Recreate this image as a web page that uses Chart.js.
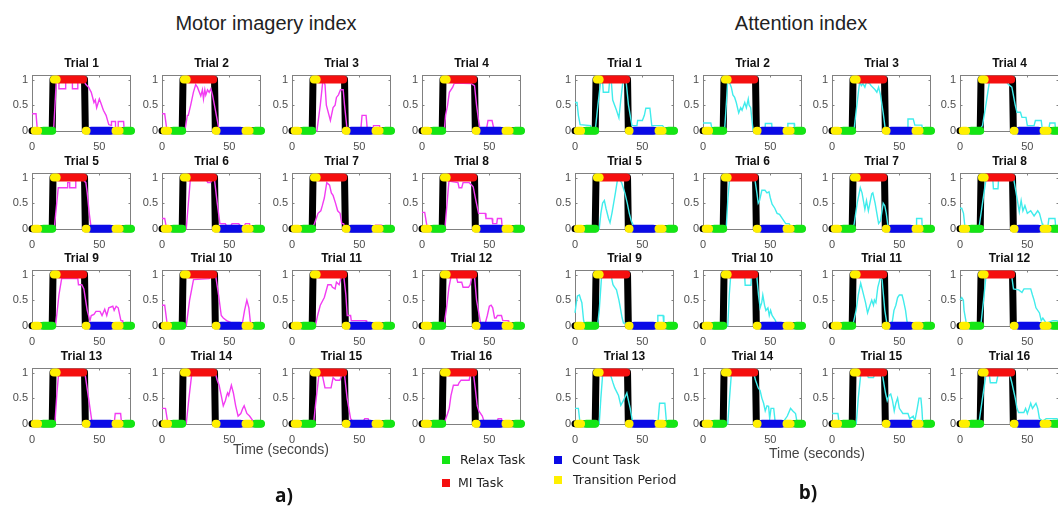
<!DOCTYPE html>
<html>
<head>
<meta charset="utf-8">
<script src="https://cdn.jsdelivr.net/npm/chart.js@4.4.0/dist/chart.umd.min.js"></script>
<style>
html,body{margin:0;padding:0;background:#fff;width:1058px;height:506px;overflow:hidden;position:relative;font-family:"Liberation Sans",Arial,sans-serif;}
canvas{position:absolute;}
.t{position:absolute;white-space:nowrap;line-height:1;}
.sq{position:absolute;width:8px;height:8px;}
</style>
</head>
<body>
<script>
// ---------------- DATA ----------------
const xTicks = [0, 50];
const yTicks = [0, 0.5, 1];
const trialLabels = ['Trial 1','Trial 2','Trial 3','Trial 4','Trial 5','Trial 6','Trial 7','Trial 8',
                     'Trial 9','Trial 10','Trial 11','Trial 12','Trial 13','Trial 14','Trial 15','Trial 16'];
const legendLabels = ['Relax Task', 'MI Task', 'Count Task', 'Transition Period'];

// protocol (time in seconds, level 0 = rest / 1 = MI)
const protocolTime  = [0, 15, 15.6, 39, 39.6, 73.5];
const protocolLevel = [0, 0, 1, 1, 0, 0];
const relaxSegments = [[8.5, 15], [69.5, 73.5]];        // level 0
const miSegments = [[20, 38]];                          // level 1
const countSegments = [[44, 58]];                       // level 0
const transitionLow = [[2, 4.5], [40, 40.5], [62, 65]]; // level 0
const transitionHigh = [[16.3, 18.3]];                  // level 1

// Motor imagery index (magenta), traced per trial
const mi1 = [[0,0.33],[3,0.33],[4,0],[16,0],[18,0.95],[20,0.95],[20,0.82],[25,0.82],[25,0.95],[30,0.95],[30,0.82],[34,0.82],[34,0.95],[39,0.95],[40,0.9],[42,0.85],[44,0.75],[46,0.55],[47,0.6],[48,0.45],[50,0.62],[51,0.55],[53,0.4],[55,0.3],[57,0.12],[59,0.1],[59,0.18],[62,0.18],[62,0.05],[64,0.05],[64,0.18],[68,0.18],[68.5,0],[73.5,0]];
const mi2 = [[0,0.33],[2,0.33],[3.7,0],[17,0],[18.8,0.3],[19.5,0.3],[21.3,0.5],[23.3,0.75],[25,0.9],[26.3,0.85],[28.8,0.68],[30,0.8],[30.8,0.62],[31.8,0.8],[32.5,0.7],[33.8,0.8],[35,0.75],[36.3,0.82],[37.5,0.7],[42.5,0],[73.5,0]];
const mi3 = [[0,0],[18.5,0],[21,0.5],[23,1],[24.5,0.9],[25.5,0.5],[28.5,0.2],[30.5,0.45],[32,0.5],[33,0.65],[34.5,0.7],[36,0.8],[38,0.8],[39,0.5],[41,0],[51,0],[52,0.3],[55,0.3],[56,0],[60,0],[60.5,0.1],[65,0.1],[65.5,0],[73.5,0]];
const mi4 = [[0,0],[16.5,0],[17.5,0.3],[19,0.5],[20.3,0.75],[22.8,0.85],[24,0.93],[36.7,0.92],[39,0.88],[40.5,0.5],[42,0.2],[43,0.05],[48,0.05],[49,0.2],[52,0.2],[53,0.08],[54.4,0],[73.5,0]];
const mi5 = [[0,0],[16.5,0],[18,0.4],[19.5,0.8],[26.5,0.8],[26.5,0.9],[28,0.9],[28,0.8],[32,0.8],[32.5,0.95],[38,0.95],[40,0.9],[41,0.7],[42.5,0.3],[44,0],[73.5,0]];
const mi6 = [[0,0.2],[2,0.2],[3.4,0],[18,0],[21,0.95],[33,0.95],[34,0.9],[36,0.9],[37,0.95],[39,0.95],[41,0.5],[43,0.1],[47,0.1],[48,0.05],[51,0.05],[52,0.1],[57,0.1],[58,0.05],[61,0.05],[62,0.1],[65,0.1],[65.5,0],[73.5,0]];
const mi7 = [[0,0],[14.8,0],[16.7,0.1],[18,0.2],[19.3,0.3],[21.4,0.35],[22.5,0.45],[24,0.6],[25.8,0.9],[27.9,0.85],[29.2,0.7],[30.5,0.65],[32.3,0.5],[33.9,0.35],[35.7,0.3],[37,0.1],[38.3,0.1],[39.6,0],[61.5,0],[62,0.07],[66.5,0.07],[67,0],[73.5,0]];
const mi8 = [[0,0.32],[2,0.32],[4,0],[17,0],[20,0.93],[26.7,0.9],[27.5,0.8],[29.5,0.8],[30.5,0.9],[35,0.9],[37,0.85],[38,0.82],[40,0.55],[42,0.3],[47,0.3],[47.5,0.2],[52,0.2],[52.5,0.1],[55.5,0.1],[56,0.2],[59,0.2],[59.6,0],[73.5,0]];
const mi9 = [[0,0],[17.5,0],[20,0.6],[22,0.92],[34,0.92],[34.5,0.8],[37,0.8],[38.5,0.72],[41,0.3],[43,0.1],[44,0.2],[46,0.22],[47.5,0.28],[50.5,0.28],[52,0.2],[54,0.32],[55.5,0.2],[57,0.35],[60,0.38],[61,0.3],[62.5,0.38],[64,0.35],[66,0.1],[67,0.1],[67.5,0],[73.5,0]];
const mi10 = [[0,0.4],[2,0.4],[4,0],[18,0],[20.5,0.5],[23.4,0.9],[35,0.92],[36,0.95],[40,0.95],[42,0.6],[44,0.2],[45.5,0.15],[48,0.1],[52,0.05],[55,0],[59,0],[60,0.1],[61.3,0.3],[63,0.5],[64.5,0.35],[65.5,0.1],[66.4,0],[73.5,0]];
const mi11 = [[0,0],[17.4,0],[19,0.2],[21,0.4],[24,0.55],[26.6,0.8],[29,0.8],[30,0.75],[32,0.72],[33,0.85],[35,0.8],[36.5,0.95],[38.5,0.95],[40,0.6],[41,0.2],[43.5,0.2],[44,0.1],[55,0.1],[55.5,0],[73.5,0]];
const mi12 = [[0,0],[16.3,0],[18,0.3],[20,0.75],[21.5,0.95],[25.5,0.95],[26.5,0.85],[29.5,0.85],[30.5,0.75],[34.5,0.75],[35.8,0.8],[37,0.95],[39,0.95],[40.5,0.5],[43.5,0.05],[47,0.05],[48.5,0.2],[50,0.38],[51.3,0.4],[52.5,0.35],[53.9,0.15],[55,0.15],[56,0.2],[59,0.2],[60,0.1],[64,0.1],[64.5,0],[73.5,0]];
const mi13 = [[0,0],[17,0],[18.5,0.6],[19.7,0.95],[39.5,0.95],[42,0.5],[44.7,0],[61,0],[61.8,0.2],[65.8,0.2],[66.5,0],[73.5,0]];
const mi14 = [[0,0.3],[2.6,0.3],[4.4,0],[18,0],[20,0.5],[22,0.95],[40,0.95],[41,0.85],[42.4,0.75],[44,0.55],[45.5,0.35],[47,0.45],[48,0.55],[48.7,0.6],[49.5,0.55],[51.5,0.75],[53,0.6],[54.7,0.35],[56.5,0.15],[58.5,0.2],[60,0.3],[61,0.35],[63,0.2],[65,0.15],[67.7,0.05],[69,0],[73.5,0]];
const mi15 = [[0,0],[16,0],[18,0.5],[20,0.95],[22.5,0.95],[24.5,0.7],[29,0.7],[30.5,0.9],[32.5,0.85],[35.5,0.85],[37,0.95],[39,0.95],[40.9,0.5],[43.5,0.1],[45,0.05],[53,0.05],[54,0.1],[56.5,0.1],[57.8,0],[73.5,0]];
const mi16 = [[0,0],[16.3,0],[19,0.2],[20.2,0.3],[21.5,0.55],[23.3,0.75],[26.7,0.75],[27.5,0.8],[29,0.85],[35,0.85],[35.8,0.95],[38.3,0.95],[39.5,0.7],[41,0.35],[42.2,0.25],[44.8,0.15],[46,0.05],[56,0.05],[56.5,0.1],[59,0.1],[60,0],[73.5,0]];

// Attention index (cyan), traced per trial
const att1 = [[0,0.55],[1.5,0.55],[2.5,0.3],[3.8,0.12],[11.5,0.1],[12.5,0],[15,0],[17,0.5],[19,0.95],[20.5,0.95],[21,0.75],[25,0.75],[25.6,0.95],[27,0.95],[28,0.6],[30.8,0.4],[32.6,0.25],[34,0.6],[35.5,0.95],[38,0.95],[39.7,0.5],[42.3,0.1],[46,0.1],[46.5,0.2],[50,0.2],[51.5,0.3],[52.6,0.44],[55.6,0.44],[57,0.1],[65,0.1],[66.5,0.05],[70.5,0.05],[71,0],[73.5,0]];
const att2 = [[0,0.15],[5.8,0.15],[7,0],[16,0],[17.5,0.6],[18.4,1],[19.5,0.95],[21,0.85],[22.2,0.7],[23.5,0.65],[24.7,0.55],[26.5,0.35],[28,0.45],[29,0.4],[31,0.55],[32.2,0.45],[33.6,0.62],[34.2,0.5],[35.4,0.45],[36.8,0.1],[37.4,0],[46,0],[46.3,0.14],[51,0.14],[51.3,0],[62.6,0],[63,0.14],[67.7,0.14],[68,0],[73.5,0]];
const att3 = [[0,0],[15,0],[16.5,0.05],[18,0.4],[20.5,0.95],[21.8,0.88],[23,0.92],[24.4,0.85],[25.6,0.95],[28,0.92],[29,0.88],[32,0.8],[33.3,0.75],[34.6,0.85],[36,0.7],[38,0.35],[39.7,0],[56,0],[56.4,0.23],[60.3,0.23],[61.5,0.11],[66.7,0.11],[67.4,0],[73.5,0]];
const att4 = [[0,0],[14,0],[16.7,0.1],[19.2,0.5],[21.8,0.95],[34.6,0.95],[36,0.9],[38.5,0.85],[41,0.5],[42.3,0.36],[44.9,0.36],[46,0.26],[49,0.26],[50,0.1],[55,0.1],[56,0.2],[60.3,0.2],[61,0.05],[66,0.05],[66.7,0.15],[70.5,0.15],[71,0],[73.5,0]];
const att5 = [[0,0],[18,0],[19.2,0.3],[20.5,0.5],[21.8,0.55],[23,0.4],[24.9,0.2],[26,0.12],[27.4,0.3],[28.7,0.5],[30,0.7],[31.5,0.95],[33.3,0.95],[34.6,0.9],[37,0.7],[38.8,0.5],[40.3,0.3],[41.8,0.15],[43.6,0.05],[45,0],[53.8,0],[54,0.05],[57.7,0.05],[58,0],[73.5,0]];
const att6 = [[0,0],[17.2,0],[18.5,0.6],[19.7,0.95],[38.6,0.95],[40,0.7],[41,0.5],[42,0.55],[43.7,0.75],[46,0.75],[47.5,0.7],[49,0.72],[50,0.6],[51.3,0.48],[53.3,0.4],[55,0.3],[56.8,0.28],[58.8,0.2],[61.4,0.1],[63.9,0.1],[65,0.05],[66.5,0],[73.5,0]];
const att7 = [[0,0],[15.5,0],[16.5,0.1],[18.7,0.5],[21,0.8],[22.3,0.7],[24.4,0.38],[25.6,0.55],[27,0.35],[29.5,0.68],[30.3,0.7],[32,0.5],[33.3,0.3],[34.6,0.1],[36,0.15],[38,0.5],[39.2,0.45],[40.3,0.3],[41.8,0],[62.5,0],[62.8,0.2],[66.7,0.2],[67,0],[73.5,0]];
const att8 = [[0,0.4],[1.3,0.4],[2.6,0.3],[3.8,0],[14,0],[16.7,0.5],[19.2,0.95],[24.4,0.95],[24.8,0.78],[28.2,0.78],[28.6,0.95],[40,0.95],[41,0.8],[42.3,0.6],[44,0.33],[45.4,0.55],[46.7,0.35],[48.2,0.45],[50,0.3],[52.5,0.35],[55,0.25],[57.7,0.35],[59,0.3],[61,0.1],[61.5,0],[65,0],[66,0.2],[70.5,0.2],[71,0.05],[73.5,0]];
const att9 = [[0,0.25],[1,0.45],[1.8,0.58],[3.3,0.6],[4.4,0.5],[5.1,0.45],[6.4,0.1],[7.7,0],[16.7,0],[18,0.3],[19.7,0.95],[27,0.95],[28.2,0.8],[29.5,0.75],[30.8,0.7],[32.6,0.5],[33.3,0.4],[35,0.15],[36,0.05],[40,0.05],[41,0],[61,0],[61.5,0.2],[65.4,0.2],[66,0],[73.5,0]];
const att10 = [[0,0],[18.4,0],[19.5,0.6],[20.5,0.95],[31,0.95],[31.3,0.79],[35.6,0.79],[36,0.95],[40,0.95],[41.2,0.6],[42.4,0.35],[43.6,0.45],[44.4,0.6],[45.7,0.4],[46.7,0.3],[48.2,0.35],[49.2,0.2],[50.2,0.3],[51.3,0.2],[53.8,0.1],[55,0],[61,0],[61.5,0.05],[66,0.05],[66.5,0],[73.5,0]];
const att11 = [[0,0],[15.4,0],[17.9,0.3],[19.5,0.6],[21.3,0.83],[23,0.65],[24.9,0.45],[26.4,0.25],[28.2,0.4],[29.5,0.5],[30.8,0.4],[31.5,0.5],[32.6,0.45],[34,0.75],[36,0.95],[37.2,0.9],[39.2,0.3],[41,0],[43.5,0],[44.9,0.1],[46,0.3],[47.4,0.4],[48.7,0.55],[50,0.6],[52,0.6],[53,0.5],[54.6,0.3],[55.6,0.1],[56.4,0],[62.5,0],[62.8,0.05],[66.7,0.05],[67,0],[73.5,0]];
const att12 = [[0,0.5],[1.3,0.55],[2.5,0.5],[3,0.3],[5,0],[15.4,0],[17.5,0.5],[19.2,0.95],[38.5,0.95],[39.7,0.72],[43.6,0.7],[46,0.65],[47.5,0.72],[52.5,0.72],[53.8,0.6],[55,0.5],[56.4,0.35],[59,0.25],[60.3,0.1],[61.5,0.15],[64,0.05],[69,0.1],[72,0.1],[73.5,0.05]];
const att13 = [[0,0.3],[2.5,0.3],[3.8,0],[18,0],[19.2,0.5],[20.5,0.95],[26.4,0.95],[27,0.9],[28.2,0.8],[29.5,0.7],[32.3,0.55],[34,0.36],[35.9,0.45],[38.5,0.6],[39.7,0.45],[41,0.3],[42.3,0.1],[43.6,0],[61.5,0],[62.8,0.4],[66.7,0.4],[68,0],[73.5,0]];
const att14 = [[0,0],[18.4,0],[19.7,0.5],[21,0.95],[38,0.95],[39,0.85],[41,0.7],[42.4,0.65],[43.7,0.5],[45,0.4],[46.2,0.25],[47.5,0.35],[48.7,0.34],[49.5,0.1],[50.5,0.3],[52.5,0.3],[53.5,0.05],[60,0.05],[62.6,0.15],[65,0.3],[66.7,0.25],[68.7,0.2],[70,0],[73.5,0]];
const att15 = [[0,0.2],[4.4,0.2],[5.1,0.05],[6.4,0],[18,0],[19.5,0.5],[21.3,0.95],[26.4,0.95],[27,0.9],[30.8,0.9],[31.5,0.95],[37.5,0.95],[39.7,0.6],[41,0.45],[42.3,0.55],[43.6,0.58],[44.9,0.45],[46.2,0.25],[47.4,0.4],[48.7,0.5],[50,0.3],[52.6,0.2],[56.4,0.2],[57.7,0.1],[60.3,0.15],[61.5,0.05],[63.3,0.3],[64.6,0.5],[66,0.5],[66.7,0.3],[67.4,0],[73.5,0]];
const att16 = [[0,0],[14,0],[16.7,0.5],[19.2,0.95],[21.8,0.95],[22.5,0.8],[27,0.8],[28.2,0.95],[37,0.95],[38.5,0.8],[41,0.5],[42.3,0.3],[43.5,0.22],[47.4,0.22],[48.7,0.3],[50,0.2],[51.3,0.3],[52.5,0.4],[53.8,0.3],[56.4,0.4],[57.7,0.3],[59,0.1],[61.5,0.05],[64,0.1],[72,0.1],[73.5,0.05]];

// ---------------- STYLE / LAYOUT ----------------
const FONT = '"Liberation Sans", Arial, sans-serif';
const COL = {relax:'#14e614', mi:'#f50f0f', count:'#0a0ae6', trans:'#fff000', proto:'#000000', miLine:'#f23cf2', attLine:'#40ecec'};
const miSeries = [mi1,mi2,mi3,mi4,mi5,mi6,mi7,mi8,mi9,mi10,mi11,mi12,mi13,mi14,mi15,mi16];
const attSeries = [att1,att2,att3,att4,att5,att6,att7,att8,att9,att10,att11,att12,att13,att14,att15,att16];
const miLefts = [32, 162, 292, 422];
const attLefts = [575, 703, 832, 960];
const rowTops = [75, 173, 270, 368];
const BOX_W = 99, BOX_H = 57, LEFT_PAD = 30, TOP_PAD = 22, BOTTOM_PAD = 20, RIGHT_PAD = 6;

const toXY = arr => arr.map(p => ({x: p[0], y: p[1]}));
function segData(segs, level) {
  const out = [];
  segs.forEach((s, i) => {
    if (i > 0) out.push({x: (segs[i-1][1] + s[0]) / 2, y: null});
    out.push({x: s[0], y: level}, {x: s[1], y: level});
  });
  return out;
}
const protoData = protocolTime.map((t, i) => ({x: t, y: protocolLevel[i]}));

const boxPlugin = {
  id: 'matlabBox',
  beforeDatasetsDraw(chart) {
    const a = chart.chartArea, ctx = chart.ctx;
    const xs = chart.scales.x, ys = chart.scales.y;
    ctx.save();
    ctx.strokeStyle = '#808080';
    ctx.lineWidth = 1;
    const l = Math.round(a.left) + 0.5, t = Math.round(a.top) + 0.5;
    const r = Math.round(a.right) - 0.5, b = Math.round(a.bottom) - 0.5;
    ctx.strokeRect(l, t, r - l, b - t);
    ctx.beginPath();
    xTicks.forEach(v => { const px = Math.round(xs.getPixelForValue(v)) + 0.5; ctx.moveTo(px, b); ctx.lineTo(px, b - 2); ctx.moveTo(px, t); ctx.lineTo(px, t + 2); });
    yTicks.forEach(v => { const py = Math.round(ys.getPixelForValue(v)) + 0.5; ctx.moveTo(l, py); ctx.lineTo(l + 2, py); ctx.moveTo(r, py); ctx.lineTo(r - 2, py); });
    ctx.stroke();
    ctx.restore();
  }
};

function thick(data, color, order, width) {
  return {data, borderColor: color, backgroundColor: color, borderWidth: width || 8, pointRadius: 0,
          borderCapStyle: 'round', borderJoinStyle: 'round', spanGaps: false, clip: false, order, tension: 0, fill: false};
}

function makePanel(boxLeft, boxTop, title, series, lineColor) {
  const W = LEFT_PAD + BOX_W + RIGHT_PAD, H = TOP_PAD + BOX_H + BOTTOM_PAD;
  const c = document.createElement('canvas');
  c.width = W; c.height = H;
  c.style.left = (boxLeft - LEFT_PAD) + 'px';
  c.style.top = (boxTop - TOP_PAD) + 'px';
  c.style.width = W + 'px'; c.style.height = H + 'px';
  document.body.appendChild(c);
  new Chart(c, {
    type: 'line',
    data: {
      datasets: [
        thick(segData(transitionLow, 0), COL.trans, 0),
        thick(segData(transitionHigh, 1), COL.trans, 0),
        thick(segData(miSegments, 1), COL.mi, 1),
        thick(segData(countSegments, 0), COL.count, 1),
        thick(segData(relaxSegments, 0), COL.relax, 1),
        {data: toXY(series), borderColor: lineColor, borderWidth: 1.4, pointRadius: 0, tension: 0, fill: false, order: 2, clip: false},
        thick(protoData, COL.proto, 3, 7)
      ]
    },
    options: {
      responsive: false, animation: false, devicePixelRatio: 1,
      events: [],
      layout: {padding: {left: 0, right: RIGHT_PAD, top: 0, bottom: 0}},
      plugins: {
        legend: {display: false}, tooltip: {enabled: false},
        title: {display: true, text: title, fullSize: false, color: '#111',
                font: {family: FONT, size: 12, weight: 'bold', lineHeight: 1}, padding: {top: 5, bottom: 5}}
      },
      scales: {
        x: {type: 'linear', min: 0, max: 73.5,
            afterBuildTicks: s => { s.ticks = xTicks.map(v => ({value: v})); },
            afterFit: s => { s.height = BOTTOM_PAD; },
            grid: {display: false, drawTicks: false}, border: {display: false},
            ticks: {padding: 8, autoSkip: false, maxRotation: 0, color: '#4d4d4d', font: {family: FONT, size: 11}, callback: v => String(v)}},
        y: {type: 'linear', min: -0.025, max: 1.088,
            afterBuildTicks: s => { s.ticks = yTicks.map(v => ({value: v})); },
            afterFit: s => { s.width = LEFT_PAD; },
            grid: {display: false, drawTicks: false}, border: {display: false},
            ticks: {padding: 4, autoSkip: false, color: '#4d4d4d', font: {family: FONT, size: 11}, callback: v => String(v)}}
      }
    },
    plugins: [boxPlugin]
  });
}

for (let r = 0; r < 4; r++) {
  for (let cIdx = 0; cIdx < 4; cIdx++) {
    const k = r * 4 + cIdx;
    makePanel(miLefts[cIdx], rowTops[r], trialLabels[k], miSeries[k], COL.miLine);
    makePanel(attLefts[cIdx], rowTops[r], trialLabels[k], attSeries[k], COL.attLine);
  }
}

// ---------------- TEXT ----------------
function addText(txt, x, y, css, anchor) {
  const d = document.createElement('div');
  d.className = 't';
  d.textContent = txt;
  d.style.left = x + 'px'; d.style.top = y + 'px';
  d.style.transform = anchor === 'left' ? 'translate(0,-50%)' : 'translate(-50%,-50%)';
  Object.assign(d.style, css);
  document.body.appendChild(d);
}
addText('Motor imagery index', 266, 23, {fontSize: '20px', color: '#222'});
addText('Attention index', 801, 23, {fontSize: '20px', color: '#222'});
addText('Time (seconds)', 281, 449, {fontSize: '14px', color: '#444'});
addText('Time (seconds)', 817, 453, {fontSize: '14px', color: '#444'});
addText('a)', 284, 495, {fontSize: '19px', fontWeight: 'bold', color: '#111', fontFamily: '"Open Sans", "Liberation Sans", sans-serif'});
addText('b)', 808, 492, {fontSize: '19px', fontWeight: 'bold', color: '#111', fontFamily: '"Open Sans", "Liberation Sans", sans-serif'});

const legendItems = [
  {label: legendLabels[0], color: COL.relax, sx: 442, sy: 456, tx: 460, ty: 460},
  {label: legendLabels[1], color: COL.mi, sx: 442, sy: 479, tx: 458, ty: 483},
  {label: legendLabels[2], color: COL.count, sx: 554, sy: 456, tx: 572, ty: 460},
  {label: legendLabels[3], color: COL.trans, sx: 554, sy: 476, tx: 573, ty: 480}
];
legendItems.forEach(it => {
  const s = document.createElement('div');
  s.className = 'sq';
  s.style.left = it.sx + 'px'; s.style.top = it.sy + 'px'; s.style.background = it.color;
  document.body.appendChild(s);
  addText(it.label, it.tx, it.ty, {fontSize: '12.5px', color: '#222', fontFamily: '"DejaVu Sans", Verdana, sans-serif'}, 'left');
});
</script>
</body>
</html>
